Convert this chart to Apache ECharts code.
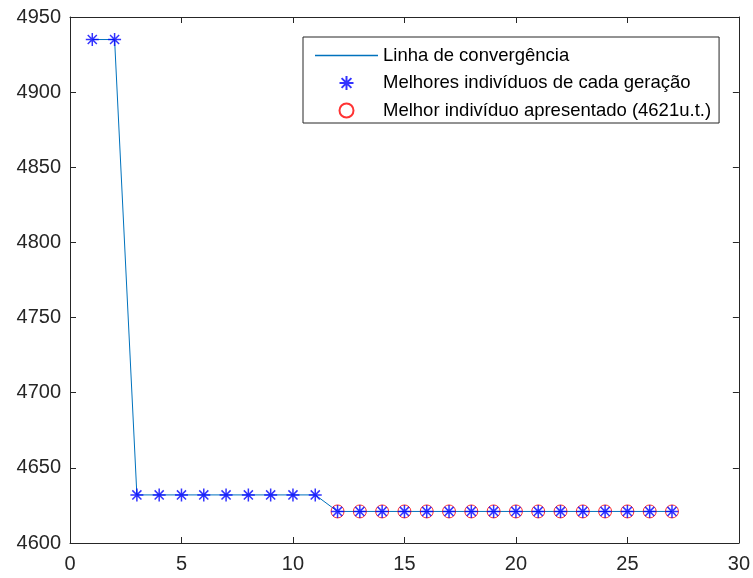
<!DOCTYPE html>
<html>
<head>
<meta charset="utf-8" />
<title>Convergência</title>
<script src="https://cdn.jsdelivr.net/npm/echarts@6/dist/echarts.min.js"></script>
<style>
  html, body, #main { margin: 0; padding: 0; width: 753px; height: 578px; background: #fff; }
</style>
</head>
<body>
<div id="main"></div>
<script>
// dados
var geracoes = [1, 2, 3, 4, 5, 6, 7, 8, 9, 10, 11, 12, 13, 14, 15, 16, 17, 18, 19, 20, 21, 22, 23, 24, 25, 26, 27];
var custoMelhor = [4935, 4935, 4632, 4632, 4632, 4632, 4632, 4632, 4632, 4632, 4632,
  4621, 4621, 4621, 4621, 4621, 4621, 4621, 4621, 4621, 4621, 4621, 4621, 4621, 4621, 4621, 4621];
var geracoesMelhor = [12, 13, 14, 15, 16, 17, 18, 19, 20, 21, 22, 23, 24, 25, 26, 27];
var custoApresentado = [4621, 4621, 4621, 4621, 4621, 4621, 4621, 4621, 4621, 4621, 4621, 4621, 4621, 4621, 4621, 4621];
var xTicks = [0, 5, 10, 15, 20, 25, 30];
var yTicks = [4600, 4650, 4700, 4750, 4800, 4850, 4900, 4950];

var nomes = ['Linha de convergência', 'Melhores indivíduos de cada geração', 'Melhor indivíduo apresentado (4621u.t.)'];

var pares = geracoes.map(function (g, i) { return [g, custoMelhor[i]]; });
var paresMelhor = geracoesMelhor.map(function (g, i) { return [g, custoApresentado[i]]; });

var asterisco = 'path://M0 10 L20 10 M10 0 L10 20 M3 3 L17 17 M17 3 L3 17';
var corEixo = '#262626';
var fonte = 'Liberation Sans';

function eixo(tipo, pos, ticks, mostraLabel) {
  return {
    type: 'value',
    position: pos,
    min: ticks[0],
    max: ticks[ticks.length - 1],
    interval: ticks[1] - ticks[0],
    axisLine: { show: true, onZero: false, lineStyle: { color: corEixo, width: 1 } },
    axisTick: { show: true, inside: true, length: 6, lineStyle: { color: corEixo } },
    axisLabel: {
      show: mostraLabel, color: corEixo, fontSize: 20, fontFamily: fonte,
      margin: tipo === 'x' ? 11 : 9,
      formatter: function (v) { return String(v); }
    },
    splitLine: { show: false }
  };
}

var chart = echarts.init(document.getElementById('main'));
chart.setOption({
  animation: false,
  backgroundColor: '#fff',
  grid: { left: 70, right: 14, top: 17, bottom: 35, containLabel: false },
  xAxis: [eixo('x', 'bottom', xTicks, true), eixo('x', 'top', xTicks, false)],
  yAxis: [eixo('y', 'left', yTicks, true), eixo('y', 'right', yTicks, false)],
  legend: {
    orient: 'vertical',
    left: 303,
    top: 37,
    padding: [9, 8, 3, 12],
    itemWidth: 63,
    itemHeight: 14,
    itemGap: 8.5,
    backgroundColor: '#fff',
    borderColor: corEixo,
    borderWidth: 1,
    borderRadius: 0,
    textStyle: { color: '#000', fontSize: 18.5, fontFamily: fonte },
    data: [
      { name: nomes[0], icon: 'path://M0 0 H63 V1.5 H0 Z', itemStyle: { color: '#0072BD' } },
      { name: nomes[1] },
      { name: nomes[2] }
    ]
  },
  series: [
    {
      name: nomes[0],
      type: 'line',
      data: pares,
      symbol: 'none',
      showSymbol: false,
      lineStyle: { color: '#0072BD', width: 1 },
      itemStyle: { color: '#0072BD' },
      z: 2
    },
    {
      name: nomes[1],
      type: 'scatter',
      data: pares,
      symbol: asterisco,
      symbolSize: 13,
      itemStyle: { color: 'rgba(0,0,0,0)', borderColor: '#0000FF', borderWidth: 1.5 },
      z: 4
    },
    {
      name: nomes[2],
      type: 'scatter',
      data: paresMelhor,
      symbol: 'circle',
      symbolSize: 13,
      itemStyle: { color: 'rgba(0,0,0,0)', borderColor: '#FF0000', borderWidth: 1 },
      z: 3
    }
  ]
});
</script>
</body>
</html>
